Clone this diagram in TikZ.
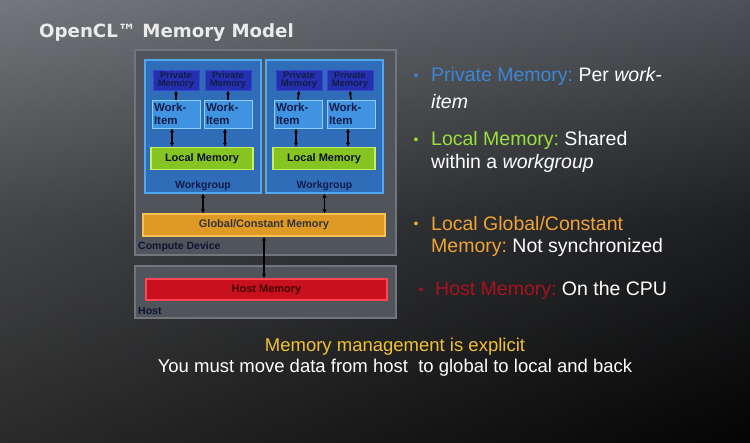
\documentclass[tikz,border=0pt]{standalone}
\usepackage{fontspec}
\setmainfont{Liberation Sans}
\newfontfamily\titlefont[BoldFont={DejaVu Sans Bold}]{DejaVu Sans}
\usetikzlibrary{arrows.meta}
\definecolor{devfill}{HTML}{50545B}
\definecolor{devline}{HTML}{72757A}
\definecolor{wgfill}{HTML}{2F6DB8}
\definecolor{wgline}{HTML}{4FA8F0}
\definecolor{pmfill}{HTML}{2430B0}
\definecolor{pmline}{HTML}{3444D0}
\definecolor{wifill}{HTML}{3F93E0}
\definecolor{wiline}{HTML}{8CD0FF}
\definecolor{lmfill}{HTML}{86C421}
\definecolor{lmline}{HTML}{C8F060}
\definecolor{gmfill}{HTML}{DE9A25}
\definecolor{gmline}{HTML}{F8C050}
\definecolor{hmfill}{HTML}{C8101E}
\definecolor{hmline}{HTML}{FF4455}
\definecolor{navy}{HTML}{141C4A}
\definecolor{bblue}{HTML}{3C86D8}
\definecolor{bgreen}{HTML}{9BE03A}
\definecolor{borange}{HTML}{F0A435}
\definecolor{bred}{HTML}{A8121E}
\definecolor{byellow}{HTML}{F2C232}
\definecolor{bgtop}{HTML}{5C6065}
\definecolor{bgmid}{HTML}{222427}
\definecolor{bgbot}{HTML}{050505}
\tikzset{
  devbox/.style={draw=devline, line width=1.2pt, fill=devfill},
  wgbox/.style={draw=wgline, line width=1.2pt, fill=wgfill},
  pm/.style={draw=pmline, line width=0.8pt, fill=pmfill, minimum width=46pt, minimum height=20pt, inner sep=0pt, font=\bfseries\fontsize{9.5}{8.5}\selectfont, text=navy, align=center},
  wi/.style={draw=wiline, line width=0.8pt, fill=wifill, minimum width=48pt, minimum height=28pt, inner sep=2pt, font=\bfseries\fontsize{11.5}{12.5}\selectfont, text=navy, align=left, text width=44pt},
  lm/.style={draw=lmline, line width=1.2pt, fill=lmfill, minimum width=102pt, minimum height=22pt, inner sep=0pt, font=\bfseries\fontsize{11}{13}\selectfont, text=navy!60!black},
  gm/.style={draw=gmline, line width=1.2pt, fill=gmfill, minimum width=242pt, minimum height=22pt, inner sep=0pt, font=\bfseries\fontsize{11}{13}\selectfont, text=black!80},
  hm/.style={draw=hmline, line width=1.5pt, fill=hmfill, minimum width=241pt, minimum height=21pt, inner sep=0pt, font=\bfseries\fontsize{11}{13}\selectfont, text=black!75!red},
  lbl/.style={font=\bfseries\fontsize{10.5}{12}\selectfont, inner sep=0pt},
  sarr/.style={-{Latex[length=4pt,width=4pt]}, line width=1.5pt, black},
  darr/.style={{Latex[length=4pt,width=4.5pt]}-{Latex[length=4pt,width=4.5pt]}, line width=1.6pt, black},
  bul/.style={font=\fontsize{19.5}{23}\selectfont, anchor=west, inner sep=0pt, align=left, text=white},
  dot/.style={font=\fontsize{14}{16}\selectfont, inner sep=0pt}
}
\begin{document}
\begin{tikzpicture}[x=1pt,y=-1pt]
\useasboundingbox (0,0) rectangle (750,443);
% background
\shade[top color=bgtop, bottom color=bgbot, middle color=bgmid] (0,0) rectangle (750,443);
\shade[left color=white, right color=black, opacity=0.15] (0,0) rectangle (750,443);

% title
\node[anchor=west, inner sep=0pt, text=white!92!black, font=\titlefont\bfseries\fontsize{18.2}{20}\selectfont] (title) at (39,33) {OpenCL™ Memory Model};

% compute device
\node[devbox, minimum width=261pt, minimum height=205pt, inner sep=0pt] (dev) at (265.5,152.5) {};
\node[lbl, anchor=west, text=navy!70!black] (devlbl) at (138,247) {Compute Device};

% workgroups
\node[wgbox, minimum width=116pt, minimum height=133pt, inner sep=0pt] (wg1) at (203,126.5) {};
\node[wgbox, minimum width=117pt, minimum height=133pt, inner sep=0pt] (wg2) at (324.5,126.5) {};
\node[lbl, text=navy] (wg1l) at (203,186) {Workgroup};
\node[lbl, text=navy] (wg2l) at (324.5,186) {Workgroup};

% private memories
\node[pm] (p1) at (176,80) {Private\\Memory};
\node[pm] (p2) at (228,80) {Private\\Memory};
\node[pm] (p3) at (299,80) {Private\\Memory};
\node[pm] (p4) at (350,80) {Private\\Memory};

% work items
\node[wi] (w1) at (176,114) {Work-\\Item};
\node[wi] (w2) at (228,114) {Work-\\Item};
\node[wi] (w3) at (298,114) {Work-\\Item};
\node[wi] (w4) at (351,114) {Work-\\Item};

% local memories
\node[lm] (l1) at (202,158.5) {Local Memory};
\node[lm] (l2) at (324,158.5) {Local Memory};

% global memory
\node[gm] (gm) at (264,225) {Global/Constant Memory};

% host
\node[devbox, minimum width=261pt, minimum height=52pt, inner sep=0pt] (host) at (265.5,292) {};
\node[hm] (hm) at (266.5,289.5) {Host Memory};
\node[lbl, anchor=west, text=navy!70!black] (hostlbl) at (138,311) {Host};

% arrows
\foreach \w/\p in {w1/p1,w2/p2,w3/p3,w4/p4} {
  \draw[sarr] (\w.north) -- (\p.south);
}
\draw[darr] ([xshift=-4pt]w1.south) -- ([xshift=-4pt]l1.north -| w1.south);
\draw[darr] ([xshift=-3pt]w2.south) -- ([xshift=-3pt]l1.north -| w2.south);
\draw[darr] ([xshift=-2pt]w3.south) -- ([xshift=-2pt]l2.north -| w3.south);
\draw[darr] ([xshift=-3pt]w4.south) -- ([xshift=-3pt]l2.north -| w4.south);
\draw[darr] (wg1.south) -- (gm.north -| wg1.south);
\draw[darr] (wg2.south) -- (gm.north -| wg2.south);
\draw[darr] (gm.south) -- (hm.north -| gm.south);

% bullets
\node[bul] (b1) at (431,76) {\textcolor{bblue}{Private Memory:}~Per \textit{work-}};
\node[bul] (b1b) at (431,102) {\textit{item}};
\node[bul] (b2) at (431,140) {\textcolor{bgreen}{Local Memory:}~Shared};
\node[bul] (b2b) at (431,163) {within a \textit{workgroup}};
\node[bul] (b3) at (431,224) {\textcolor{borange}{Local Global/Constant}};
\node[bul] (b3b) at (431,247) {\textcolor{borange}{Memory:}~Not synchronized};
\node[bul] (b4) at (435,290) {\textcolor{bred}{Host Memory:}~On the CPU};
\node[dot, text=bblue] (d1) at (416,77) {•};
\node[dot, text=bgreen] (d2) at (416,141) {•};
\node[dot, text=borange] (d3) at (416,225) {•};
\node[dot, text=bred] (d4) at (421,291) {•};

% bottom text
\node[font=\fontsize{18.5}{20}\selectfont, text=byellow, inner sep=0pt] (m1) at (395,347) {Memory management is explicit};
\node[font=\fontsize{18.5}{20}\selectfont, text=white, inner sep=0pt] (m2) at (395,368) {You must move data from host\ \ to global to local and back};
\end{tikzpicture}
\end{document}
